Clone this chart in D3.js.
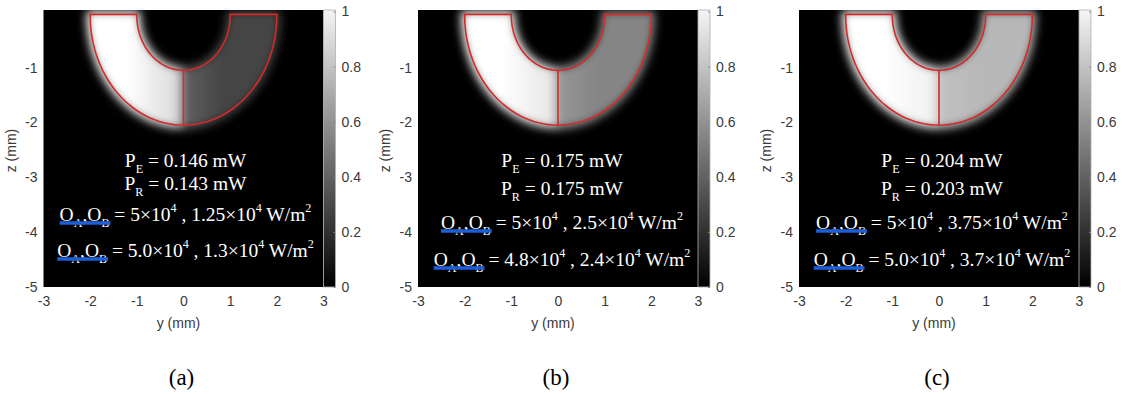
<!DOCTYPE html>
<html>
<head>
<meta charset="utf-8">
<script src="https://cdn.jsdelivr.net/npm/d3@7"></script>
<style>
  body { margin: 0; background: #fff; }
  svg { display: block; }
  .tick text { font-family: "Liberation Sans", Arial, sans-serif; font-size: 14px; fill: #3a3a3a; }
</style>
</head>
<body>
<svg id="fig" width="1122" height="394"></svg>
<script>
// panel data
const panels = ['(a)', '(b)', '(c)'];
const powerE = ['0.146', '0.175', '0.204'];
const powerR = ['0.143', '0.175', '0.203'];
const targetA = ['5', '5', '5'];
const targetB = ['1.25', '2.5', '3.75'];
const achievedA = ['5.0', '4.8', '5.0'];
const achievedB = ['1.3', '2.4', '3.7'];
// normalised intensity in each half of the U
const leftIntensity = [1, 1, 1];
const rightIntensity = [0.27, 0.52, 0.72];
// geometry of the U (mm)
const innerR = 1;
const outerR = 2;
const centerZ = -0.05;
const topZ = -0.03;
// ticks
const yTicks = [-3, -2, -1, 0, 1, 2, 3];
const zTicks = [-5, -4, -3, -2, -1];
const cbTicks = [0, 0.2, 0.4, 0.6, 0.8, 1];

// layout
const plotW = 280, plotTop = 10, plotBottom = 287, cbW = 12;
const panelLeft = [43.5, 418, 799];
const textBaselines = [[167, 190, 221, 257], [167, 195, 229, 266], [167, 195, 229, 266]];
const textShift = [2, 4, 3];

const svg = d3.select('#fig');
const defs = svg.append('defs');
const gray = d3.scaleLinear().domain([0, 1]).range(['#000', '#fff']);

defs.append('filter')
  .attr('id', 'soft')
  .attr('x', '-30%').attr('y', '-30%').attr('width', '160%').attr('height', '160%')
  .append('feGaussianBlur')
  .attr('stdDeviation', 5);

const arcPoints = (r, a0, a1) => d3.range(61).map(k => {
  const a = a0 + (a1 - a0) * k / 60;
  return [r * Math.cos(a), centerZ + r * Math.sin(a)];
});

const halfShape = (side) => {
  const pts = [];
  if (side === 'left') {
    pts.push([-outerR, topZ]);
    pts.push(...arcPoints(outerR, Math.PI, 1.5 * Math.PI));
    pts.push(...arcPoints(innerR, 1.5 * Math.PI, Math.PI));
    pts.push([-innerR, topZ]);
  } else {
    pts.push(...arcPoints(outerR, 1.5 * Math.PI, 2 * Math.PI));
    pts.push([outerR, topZ], [innerR, topZ]);
    pts.push(...arcPoints(innerR, 2 * Math.PI, 1.5 * Math.PI));
  }
  return pts;
};

const outline = () => [
  [-outerR, topZ],
  ...arcPoints(outerR, Math.PI, 2 * Math.PI),
  [outerR, topZ], [innerR, topZ],
  ...arcPoints(innerR, 2 * Math.PI, Math.PI),
  [-innerR, topZ]
];

const segments = (i) => [
  [{ t: 'P' }, { t: 'E', sub: 1 }, { t: ' = ' + powerE[i] + ' mW' }],
  [{ t: 'P' }, { t: 'R', sub: 1 }, { t: ' = ' + powerR[i] + ' mW' }],
  [{ t: 'O' }, { t: 'A', sub: 1 }, { t: ',' }, { t: 'O' }, { t: 'B', sub: 1 },
   { t: ' = ' + targetA[i] + '×10' }, { t: '4', sup: 1 }, { t: ' , ' + targetB[i] + '×10' },
   { t: '4', sup: 1 }, { t: ' W/m' }, { t: '2', sup: 1 }],
  [{ t: 'O' }, { t: 'A', sub: 1 }, { t: ',' }, { t: 'O' }, { t: 'B', sub: 1 },
   { t: ' = ' + achievedA[i] + '×10' }, { t: '4', sup: 1 }, { t: ' , ' + achievedB[i] + '×10' },
   { t: '4', sup: 1 }, { t: ' W/m' }, { t: '2', sup: 1 }]
];

const drawPanel = (name, i) => {
  const x0 = panelLeft[i];
  const x = d3.scaleLinear().domain([-3, 3]).range([x0, x0 + plotW]);
  const z = d3.scaleLinear().domain([-5, 0.05]).range([plotBottom, plotTop]);
  const line = d3.line().x(d => x(d[0])).y(d => z(d[1]));
  const g = svg.append('g');

  defs.append('clipPath').attr('id', 'clip' + i)
    .append('rect')
    .attr('x', x0).attr('y', plotTop)
    .attr('width', plotW).attr('height', plotBottom - plotTop);

  g.append('rect')
    .attr('x', x0).attr('y', plotTop)
    .attr('width', plotW).attr('height', plotBottom - plotTop)
    .attr('fill', '#000');

  // intensity field
  const left = leftIntensity[i], right = rightIntensity[i];
  const gl = defs.append('linearGradient').attr('id', 'gl' + i)
    .attr('gradientUnits', 'userSpaceOnUse')
    .attr('x1', x(-outerR)).attr('x2', x(0)).attr('y1', 0).attr('y2', 0);
  gl.append('stop').attr('offset', 0).attr('stop-color', gray(left));
  gl.append('stop').attr('offset', 0.4).attr('stop-color', gray(left));
  gl.append('stop').attr('offset', 1).attr('stop-color', gray(left - (left - right) * 0.22));
  const gr = defs.append('linearGradient').attr('id', 'gr' + i)
    .attr('gradientUnits', 'userSpaceOnUse')
    .attr('x1', x(0)).attr('x2', x(outerR)).attr('y1', 0).attr('y2', 0);
  gr.append('stop').attr('offset', 0).attr('stop-color', gray(right + (left - right) * 0.15));
  gr.append('stop').attr('offset', 0.4).attr('stop-color', gray(right));
  gr.append('stop').attr('offset', 1).attr('stop-color', gray(right));

  const field = g.append('g').attr('clip-path', 'url(#clip' + i + ')')
    .append('g').attr('filter', 'url(#soft)');
  field.append('path')
    .attr('d', line(halfShape('left')) + 'Z')
    .attr('fill', 'url(#gl' + i + ')')
    .attr('stroke', 'url(#gl' + i + ')')
    .attr('stroke-width', 7);
  field.append('path')
    .attr('d', line(halfShape('right')) + 'Z')
    .attr('fill', 'url(#gr' + i + ')')
    .attr('stroke', 'url(#gr' + i + ')')
    .attr('stroke-width', 7);

  // red boundary
  g.append('path')
    .attr('d', line(outline()) + 'Z')
    .attr('fill', 'none')
    .attr('stroke', '#d42a2a')
    .attr('stroke-width', 1.6);
  g.append('path')
    .attr('d', line([[0, centerZ - innerR], [0, centerZ - outerR]]))
    .attr('fill', 'none')
    .attr('stroke', '#d42a2a')
    .attr('stroke-width', 1.6);

  // axes
  g.append('g')
    .attr('transform', `translate(0,${plotBottom})`)
    .call(d3.axisBottom(x).tickValues(yTicks).tickSize(0).tickPadding(9).tickFormat(d => String(d)))
    .call(a => a.select('.domain').remove());
  g.append('g')
    .attr('transform', `translate(${x0},0)`)
    .call(d3.axisLeft(z).tickValues(zTicks).tickSize(0).tickPadding(6).tickFormat(d => String(d)))
    .call(a => a.select('.domain').remove());

  // colorbar
  const cx0 = x0 + plotW;
  const c = d3.scaleLinear().domain([0, 1]).range([plotBottom, plotTop + 1.5]);
  const cg = defs.append('linearGradient').attr('id', 'cb' + i)
    .attr('x1', 0).attr('x2', 0).attr('y1', 1).attr('y2', 0);
  cg.append('stop').attr('offset', 0).attr('stop-color', gray(0));
  cg.append('stop').attr('offset', 1).attr('stop-color', gray(0.96));
  g.append('rect')
    .attr('x', cx0).attr('y', plotTop)
    .attr('width', cbW).attr('height', plotBottom - plotTop)
    .attr('fill', 'url(#cb' + i + ')')
    .attr('stroke', '#b0b0b0')
    .attr('stroke-width', 0.8);
  g.append('g')
    .attr('transform', `translate(${cx0 + cbW},0)`)
    .call(d3.axisRight(c).tickValues(cbTicks).tickSize(-2).tickPadding(6).tickFormat(d => String(d)))
    .call(a => a.select('.domain').remove())
    .call(a => a.selectAll('.tick line').attr('stroke', '#888'));

  // annotation
  const cxText = (x(-3) + x(3)) / 2 + textShift[i];
  segments(i).forEach((segs, r) => {
    const base = textBaselines[i][r];
    const t = g.append('text')
      .attr('x', cxText).attr('y', base)
      .attr('text-anchor', 'middle')
      .attr('fill', '#fff')
      .style('font-family', '"Liberation Serif", "Times New Roman", serif')
      .style('font-size', '19.5px')
      .style('white-space', 'pre');
    let cur = 0;
    segs.forEach(s => {
      const off = s.sub ? 6 : s.sup ? -9 : 0;
      t.append('tspan')
        .attr('dy', off - cur)
        .style('font-size', s.sub || s.sup ? '0.62em' : null)
        .text(s.t);
      cur = off;
    });
    if (r >= 2) {
      const node = t.node();
      const sx = node.getStartPositionOfChar(0).x;
      const ex = node.getEndPositionOfChar(4).x;
      g.append('line')
        .attr('x1', sx).attr('x2', ex + 1)
        .attr('y1', base + 2).attr('y2', base + 2)
        .attr('stroke', '#1d5fd8')
        .attr('stroke-width', 3.5);
    }
  });

  // axis titles and panel label
  svg.append('text')
    .attr('x', (x(-3) + x(3)) / 2 - 5).attr('y', 328)
    .attr('text-anchor', 'middle')
    .attr('fill', '#3a3a3a')
    .style('font-family', '"Liberation Sans", Arial, sans-serif')
    .style('font-size', '14px')
    .text('y (mm)');
  svg.append('text')
    .attr('transform', `translate(${x0 - 28},${(plotTop + plotBottom) / 2 + 2}) rotate(-90)`)
    .attr('text-anchor', 'middle')
    .attr('fill', '#3a3a3a')
    .style('font-family', '"Liberation Sans", Arial, sans-serif')
    .style('font-size', '14px')
    .text('z (mm)');
  svg.append('text')
    .attr('x', (x(-3) + x(3)) / 2 - 2).attr('y', 385)
    .attr('text-anchor', 'middle')
    .attr('fill', '#000')
    .style('font-family', '"Liberation Serif", "Times New Roman", serif')
    .style('font-size', '23px')
    .text(name);
};

panels.forEach(drawPanel);
</script>
</body>
</html>
